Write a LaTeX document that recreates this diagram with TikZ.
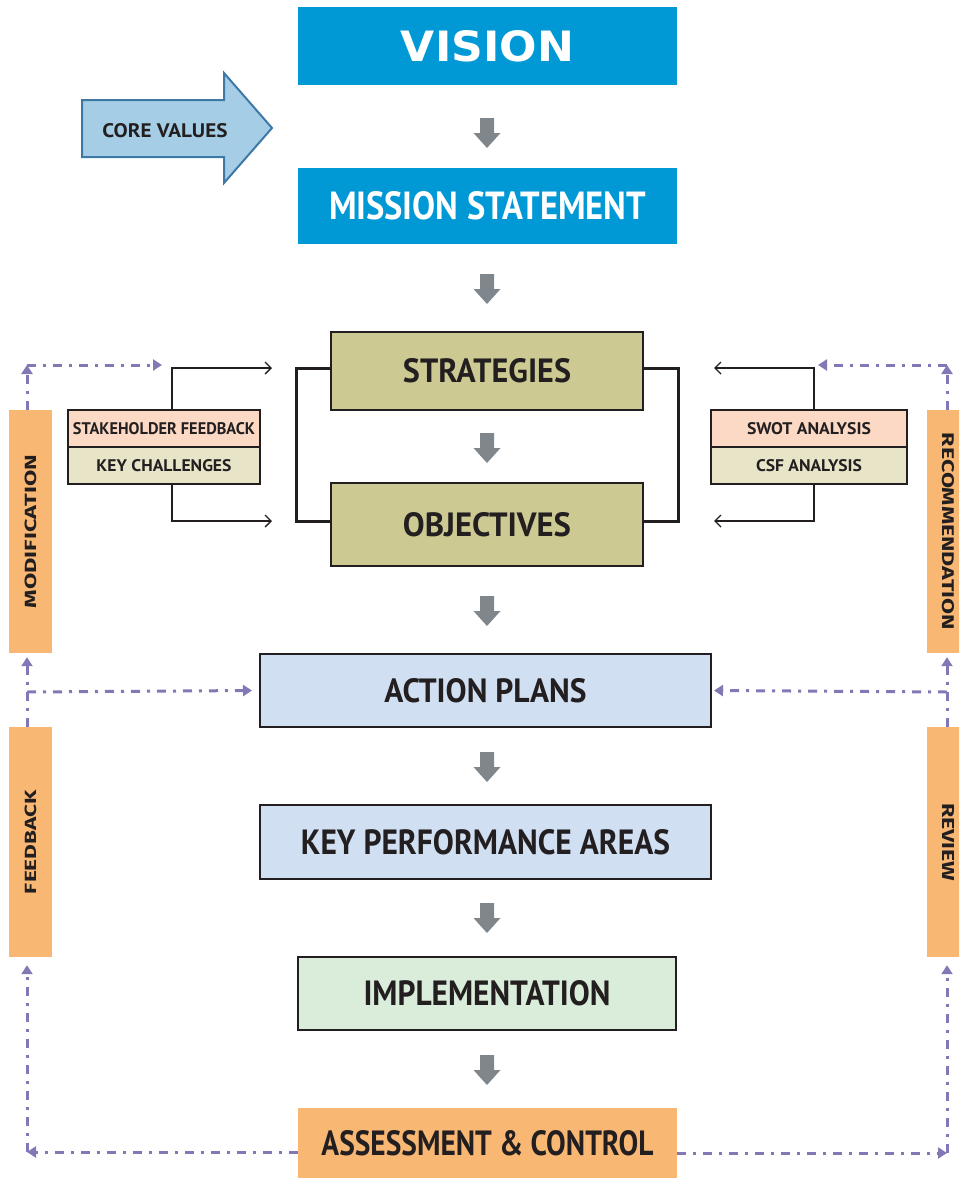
\documentclass[tikz,border=0pt]{standalone}
\usepackage{fontspec}
\setmainfont{PT Sans}
\newfontfamily\visionfont{DejaVu Sans}
\newfontfamily\sidefont{Fira Sans}
\usetikzlibrary{arrows.meta}

\definecolor{visionblue}{RGB}{0,153,214}
\definecolor{khaki}{RGB}{204,202,146}
\definecolor{peach}{RGB}{252,217,197}
\definecolor{beige}{RGB}{232,228,200}
\definecolor{paleblue}{RGB}{208,223,241}
\definecolor{palegreen}{RGB}{218,237,218}
\definecolor{tabfill}{RGB}{248,184,116}
\definecolor{loopline}{RGB}{128,121,182}
\definecolor{stepgray}{RGB}{127,134,140}
\definecolor{corefill}{RGB}{165,206,230}
\definecolor{coreedge}{RGB}{62,121,166}
\definecolor{ink}{RGB}{35,31,32}

% scale a label to a given width and cap height (in pt)
\newcommand{\fitlabel}[3]{\resizebox{#1pt}{#2pt}{#3}}

\begin{document}
\begin{tikzpicture}[x=1pt,y=-1pt,
  headbox/.style={fill=visionblue, inner sep=0pt, text=white},
  mainbox/.style={draw=ink, line width=2pt, inner sep=0pt, text=ink},
  sidebox/.style={draw=ink, line width=2pt, inner sep=0pt, text=ink,
                  minimum height=37pt},
  tabbox/.style={fill=tabfill, inner sep=0pt, text=ink, minimum width=43pt},
  loop/.style={draw=loopline, line width=3pt,
               dash pattern=on 9pt off 7pt on 3pt off 7pt,
               -{Triangle[length=9pt,width=11pt]}},
  feed/.style={draw=ink, line width=1.4pt,
               -{Straight Barb[length=6pt,width=12pt]}},
  bracket/.style={draw=ink, line width=3pt},
  stepdown/.pic={\fill[stepgray] (-7,0) -- (7,0) -- (7,15) -- (13.5,15)
                 -- (0,30) -- (-13.5,15) -- (-7,15) -- cycle;}
]
\useasboundingbox (0,0) rectangle (959,1178);
\clip (0,0) rectangle (959,1178);

% main column
\node[headbox, minimum width=379pt, minimum height=78pt] (vision) at (487.5,46)
  {\fitlabel{173}{31}{\visionfont\bfseries VISION}};
\node[headbox, minimum width=379pt, minimum height=76pt] (mission) at (487.5,206)
  {\fitlabel{317}{28}{\bfseries MISSION STATEMENT}};
\node[mainbox, fill=khaki, minimum width=312pt, minimum height=78pt] (strat) at (487,371)
  {\fitlabel{168}{24}{\bfseries STRATEGIES}};
\node[mainbox, fill=khaki, minimum width=312pt, minimum height=83pt] (obj) at (487,524.5)
  {\fitlabel{168}{24}{\bfseries OBJECTIVES}};
\node[mainbox, fill=paleblue, minimum width=451pt, minimum height=73pt] (action) at (485.5,690.5)
  {\fitlabel{202}{24}{\bfseries ACTION PLANS}};
\node[mainbox, fill=paleblue, minimum width=451pt, minimum height=74pt] (kpa) at (485.5,842)
  {\fitlabel{369}{25}{\bfseries KEY PERFORMANCE AREAS}};
\node[mainbox, fill=palegreen, minimum width=378pt, minimum height=73pt] (impl) at (487,993.5)
  {\fitlabel{247}{25}{\bfseries IMPLEMENTATION}};
\node[fill=tabfill, inner sep=0pt, text=ink, minimum width=379pt, minimum height=70pt] (assess) at (487.5,1143)
  {\fitlabel{332}{25}{\bfseries ASSESSMENT \& CONTROL}};

% block arrows between the stages
\foreach \yy in {118,274,433,596,752,903,1055}
  \pic at (487,\yy) {stepdown};

% core values arrow
\draw[fill=corefill, draw=coreedge, line width=2pt, line join=miter]
  (82,100) -- (224,100) -- (224,73) -- (272,128) -- (224,183) -- (224,157) -- (82,157) -- cycle;
\node[text=ink, inner sep=0pt] (core) at (165,130.5) {\fitlabel{125}{14}{\bfseries CORE VALUES}};

% strategy / objective bracket
\draw[bracket] ([yshift=3pt]strat.west) -- ++(-34,0) |- ([yshift=3pt]obj.west);
\draw[bracket] ([yshift=3pt]strat.east) -- ++(34,0) |- ([yshift=3pt]obj.east);

% input boxes
\node[sidebox, fill=peach, minimum width=192pt] (skh) at (164,428.5)
  {\fitlabel{182}{12}{\bfseries STAKEHOLDER FEEDBACK}};
\node[sidebox, fill=beige, minimum width=192pt] (kch) at (164,465.5)
  {\fitlabel{135}{12}{\bfseries KEY CHALLENGES}};
\node[sidebox, fill=peach, minimum width=196pt] (swot) at (809,428.5)
  {\fitlabel{124}{12}{\bfseries SWOT ANALYSIS}};
\node[sidebox, fill=beige, minimum width=196pt] (csf) at (809,465.5)
  {\fitlabel{106}{12}{\bfseries CSF ANALYSIS}};

\coordinate (skhin) at (272,368);
\coordinate (kchin) at (272,521);
\coordinate (swotin) at (714,368);
\coordinate (csfin) at (714,521);
\draw[feed] ([xshift=8pt]skh.north) |- (skhin);
\draw[feed] ([xshift=8pt]kch.south) |- (kchin);
\draw[feed] ([xshift=5pt]swot.north) |- (swotin);
\draw[feed] ([xshift=5pt]csf.south) |- (csfin);

% loop tabs
\node[tabbox, minimum height=243pt] (mod) at (30.5,531.5)
  {\rotatebox{90}{\fitlabel{153}{11.5}{\sidefont\bfseries MODIFICATION}}};
\node[tabbox, minimum height=230pt] (fb) at (30.5,842)
  {\rotatebox{90}{\fitlabel{104}{11.5}{\sidefont\bfseries FEEDBACK}}};
\node[tabbox, minimum height=243pt] (rec) at (948.5,531.5)
  {\rotatebox{-90}{\fitlabel{197}{12}{\sidefont\bfseries RECOMMENDATION}}};
\node[tabbox, minimum height=230pt] (rev) at (948.5,842)
  {\rotatebox{-90}{\fitlabel{78}{12}{\sidefont\bfseries REVIEW}}};

% loop connectors, left side
\coordinate (lt) at (27,365);
\coordinate (ltend) at (162,365);
\coordinate (lm) at (27,692);
\coordinate (lb) at (27,1152);
\draw[loop] ([xshift=-3.5pt]mod.north) -- (lt);
\draw[loop] (lt) -- (ltend);
\draw[loop] ([xshift=-3.5pt]fb.north) -- ([xshift=-3.5pt,yshift=-4pt]mod.south);
\draw[loop] (lm) -- ([xshift=-7pt]action.west);
\draw[loop] ([yshift=-9pt]assess.west) -- (lb);
\draw[loop] (lb) -- ([xshift=-3.5pt,yshift=-8pt]fb.south);

% loop connectors, right side
\coordinate (rt) at (947,365);
\coordinate (rtend) at (818,365);
\coordinate (rm) at (947,692);
\coordinate (rb) at (947,1153);
\draw[loop] ([xshift=-1.5pt]rec.north) -- (rt);
\draw[loop] (rt) -- (rtend);
\draw[loop] ([xshift=-1.5pt]rev.north) -- ([xshift=-1.5pt,yshift=-4pt]rec.south);
\draw[loop] (rm) -- ([xshift=2pt]action.east);
\draw[loop] ([yshift=-10pt]assess.east) -- (rb);
\draw[loop] (rb) -- ([xshift=-1.5pt,yshift=-8pt]rev.south);
\end{tikzpicture}
\end{document}
